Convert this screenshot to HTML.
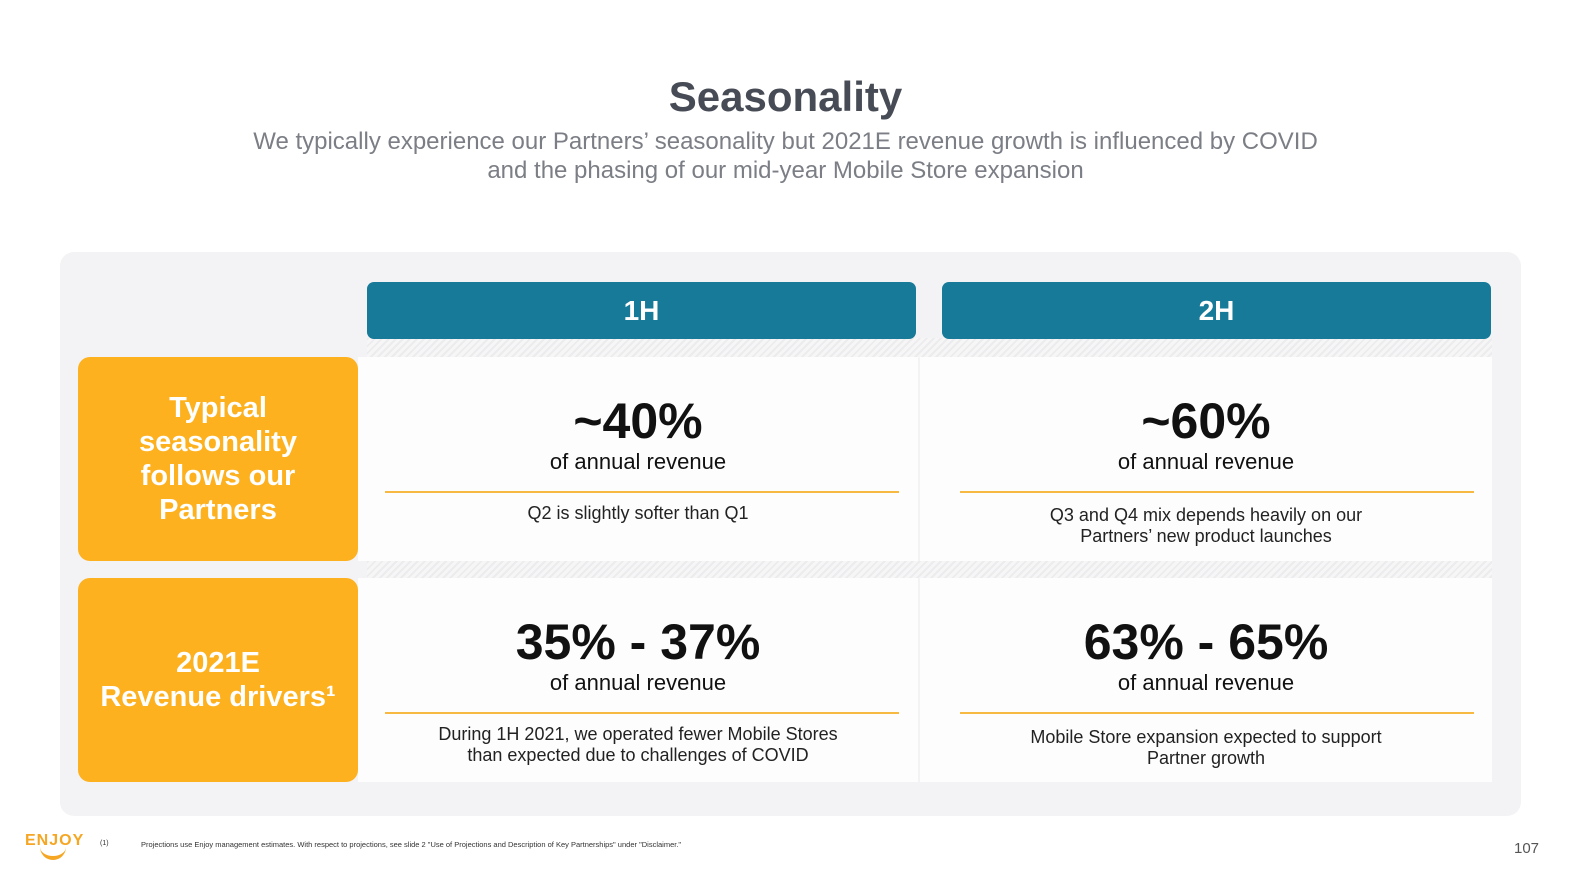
<!DOCTYPE html>
<html><head><meta charset="utf-8"><style>
body{margin:0;width:1583px;height:891px;background:#fff;font-family:"Liberation Sans","DejaVu Sans",sans-serif;position:relative;overflow:hidden}
div{position:absolute;box-sizing:border-box}
.title{left:0;width:1571px;top:73px;text-align:center;font-size:42px;font-weight:bold;color:#474b55}
.sub{left:0;width:1571px;top:127px;text-align:center;font-size:24px;color:#7b7e85;line-height:29px}
.panel{left:60px;top:252px;width:1461px;height:564px;background:#f3f3f5;border-radius:14px}
.hatch{background:repeating-linear-gradient(135deg,#ececee 0 2px,#f6f6f7 2px 5px)}
.hdr{top:282px;height:57px;background:#177a99;border-radius:7px;color:#fff;font-weight:bold;font-size:28px;text-align:center;line-height:57px}
.card{left:78px;width:280px;height:204px;background:#fdb11f;border-radius:12px;color:#fff;font-weight:bold;font-size:29px;line-height:34px;display:flex;align-items:center;justify-content:center;text-align:center}
.cell{background:#fdfdfd;text-align:center;color:#111}
.big{position:absolute;left:0;right:0;top:35px;font-size:50px;font-weight:bold}
.of{position:absolute;left:0;right:0;top:92px;font-size:22px}
.ln{position:absolute;left:27px;right:19px;top:134px;height:2px;background:#f7b941}
.nt{position:absolute;left:0;right:0;top:146px;font-size:18px;line-height:21px;color:#222}
</style></head><body>
<div class="title">Seasonality</div>
<div class="sub">We typically experience our Partners’ seasonality but 2021E revenue growth is influenced by COVID<br>and the phasing of our mid-year Mobile Store expansion</div>
<div class="panel"></div>
<div class="hatch" style="left:367px;top:338px;width:1125px;height:20px"></div>
<div class="hatch" style="left:367px;top:561px;width:1125px;height:18px"></div>
<div class="hdr" style="left:367px;width:549px">1H</div>
<div class="hdr" style="left:942px;width:549px">2H</div>
<div class="card" style="top:357px">Typical<br>seasonality<br>follows our<br>Partners</div>
<div class="card" style="top:578px">2021E<br>Revenue drivers¹</div>
<div class="cell" style="left:358px;top:357px;width:560px;height:204px"><div class="big">~40%</div><div class="of">of annual revenue</div><div class="ln"></div><div class="nt">Q2 is slightly softer than Q1</div></div>
<div class="cell" style="left:920px;top:357px;width:572px;height:204px"><div class="big">~60%</div><div class="of">of annual revenue</div><div class="ln" style="left:40px;right:18px"></div><div class="nt" style="top:148px">Q3 and Q4 mix depends heavily on our<br>Partners’ new product launches</div></div>
<div class="cell" style="left:358px;top:578px;width:560px;height:204px"><div class="big">35% - 37%</div><div class="of">of annual revenue</div><div class="ln"></div><div class="nt">During 1H 2021, we operated fewer Mobile Stores<br>than expected due to challenges of COVID</div></div>
<div class="cell" style="left:920px;top:578px;width:572px;height:204px"><div class="big">63% - 65%</div><div class="of">of annual revenue</div><div class="ln" style="left:40px;right:18px"></div><div class="nt" style="top:149px">Mobile Store expansion expected to support<br>Partner growth</div></div>
<div style="left:25px;top:832px;font-size:16px;font-weight:bold;color:#f5a623;letter-spacing:1px">ENJOY</div>
<div style="left:40px;top:846px;width:26px;height:14px;border-bottom:4px solid #f5a623;border-radius:0 0 14px 14px"></div>
<div style="left:100px;top:840px;font-size:7px;color:#333">(1)</div>
<div style="left:141px;top:840px;font-size:7.5px;color:#333">Projections use Enjoy management estimates. With respect to projections, see slide 2 "Use of Projections and Description of Key Partnerships" under "Disclaimer."</div>
<div style="left:1514px;top:840px;font-size:15px;color:#555">107</div>
</body></html>
